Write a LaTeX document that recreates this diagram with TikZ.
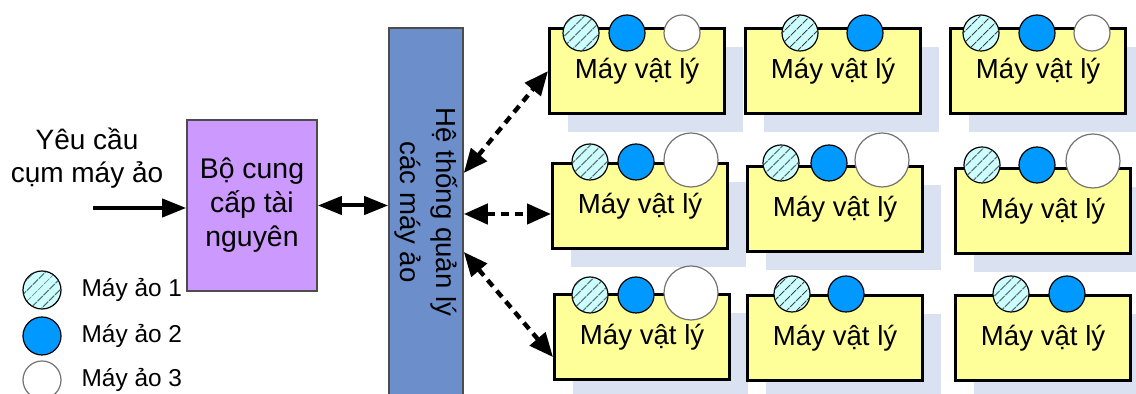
\documentclass[tikz,border=0pt]{standalone}
\usepackage{fontspec}
\setmainfont{Liberation Sans}
\usetikzlibrary{arrows.meta,positioning,patterns.meta,shadows}
\definecolor{provpurple}{RGB}{204,153,255}
\definecolor{barblue}{RGB}{108,143,204}
\definecolor{pmyellow}{RGB}{255,255,153}
\definecolor{shadowblue}{RGB}{218,226,242}
\definecolor{vmcyan}{RGB}{204,255,255}
\definecolor{vmblue}{RGB}{0,153,255}

\begin{document}
\begin{tikzpicture}[
  x=0.5pt, y=-0.5pt,
  prov/.style={draw=black!70, line width=0.8pt, fill=provpurple, align=center,
               minimum width=65pt, minimum height=85.5pt, inner sep=0pt,
               font=\fontsize{14.2}{17}\selectfont},
  bar/.style={draw=black!70, line width=0.8pt, fill=barblue,
              minimum width=37pt, minimum height=186pt, inner sep=0pt},
  pm/.style={draw, line width=1.6pt, fill=pmyellow, anchor=north west,
             minimum width=87.5pt, minimum height=42.5pt, inner sep=0pt,
             font=\fontsize{13.8}{16}\selectfont,
             general shadow={shadow xshift=9pt, shadow yshift=-9pt, fill=shadowblue}},
  vm/.style={circle, draw, line width=0.6pt, inner sep=0pt, minimum size=18pt},
  vma/.style={vm, fill=vmcyan,
              postaction={pattern={Lines[angle=45, distance=4pt, line width=0.6pt]},
                          pattern color=black!75}},
  vmb/.style={vm, fill=vmblue},
  vmc/.style={vm, fill=white, draw=black!55},
  big/.style={minimum size=27pt},
  legtxt/.style={font=\fontsize{12.2}{14}\selectfont, right=6.5pt of #1},
  sarr/.style={{Triangle[length=12pt,width=9pt]}-{Triangle[length=12pt,width=9pt]}, line width=2pt},
  inarr/.style={-{Triangle[length=12pt,width=9pt]}, line width=2pt},
  darr/.style={{Triangle[length=12pt,width=10pt]}-{Triangle[length=12pt,width=10pt]},
               line width=2.2pt, dash pattern=on 4pt off 3pt}
]
\useasboundingbox (0,0) rectangle (1136,394);

% request and provider
\node[align=center, font=\fontsize{14}{16.5}\selectfont] (req) at (87,158) {Yêu cầu\\cụm máy ảo};
\coordinate (reqin) at (93,208);
\node[prov] (prov) at (252,205.5) {Bộ cung\\cấp tài\\nguyên};

% VM management system
\node[bar] (vmm) at (426,214) {};
\node[rotate=-90, align=center, font=\fontsize{13.8}{18}\selectfont] (vmmlbl) at (426,212)
  {Hệ thống quản lý\\các máy ảo};

% physical machines
\node[pm] (m11) at (548,27) {Máy vật lý};
\node[pm] (m12) at (744,27) {Máy vật lý};
\node[pm] (m13) at (949,27) {Máy vật lý};
\node[pm] (m21) at (551,162) {Máy vật lý};
\node[pm] (m22) at (746,165) {Máy vật lý};
\node[pm] (m23) at (954,167) {Máy vật lý};
\node[pm] (m31) at (553,293) {Máy vật lý};
\node[pm] (m32) at (746,294) {Máy vật lý};
\node[pm] (m33) at (954,294) {Máy vật lý};

% virtual machines on each host
\node[vma] (m11a) at (581,33) {};
\node[vmb] (m11b) at (627,33) {};
\node[vmc] (m11c) at (682,33) {};
\node[vma] (m12a) at (800,33) {};
\node[vmb] (m12b) at (865,33) {};
\node[vma] (m13a) at (981,33) {};
\node[vmb] (m13b) at (1037,33) {};
\node[vmc] (m13c) at (1092,33) {};
\node[vma] (m21a) at (590,162) {};
\node[vmb] (m21b) at (636,162) {};
\node[vmc, big] (m21c) at (691,160) {};
\node[vma] (m22a) at (781,163) {};
\node[vmb] (m22b) at (829,163) {};
\node[vmc, big] (m22c) at (882,160) {};
\node[vma] (m23a) at (982,165) {};
\node[vmb] (m23b) at (1037,165) {};
\node[vmc, big] (m23c) at (1093,161) {};
\node[vma] (m31a) at (590,295) {};
\node[vmb] (m31b) at (636,295) {};
\node[vmc, big] (m31c) at (691,293) {};
\node[vma] (m32a) at (792,294) {};
\node[vmb] (m32b) at (846,294) {};
\node[vma] (m33a) at (1011,294) {};
\node[vmb] (m33b) at (1067,294) {};

% legend
\node[vma, minimum size=19pt] (leg1) at (42,290) {};
\node[vmb, minimum size=19pt] (leg2) at (42,336) {};
\node[vmc, minimum size=19pt] (leg3) at (42,380) {};
\node[legtxt=leg1] (leg1t) {Máy ảo 1};
\node[legtxt=leg2] (leg2t) {Máy ảo 2};
\node[legtxt=leg3] (leg3t) {Máy ảo 3};

% connectors
\draw[inarr] (reqin) -- (reqin -| prov.west);
\draw[sarr] (prov.east) -- (prov.east -| vmm.west);
\draw[darr] ([yshift=20.5pt]vmm.east) -- (m11.west);
\draw[darr] (vmm.east) -- (vmm.east -| m21.west);
\draw[darr] ([yshift=-19pt]vmm.east) -- ([yshift=-10pt]m31.west);
\end{tikzpicture}
\end{document}
